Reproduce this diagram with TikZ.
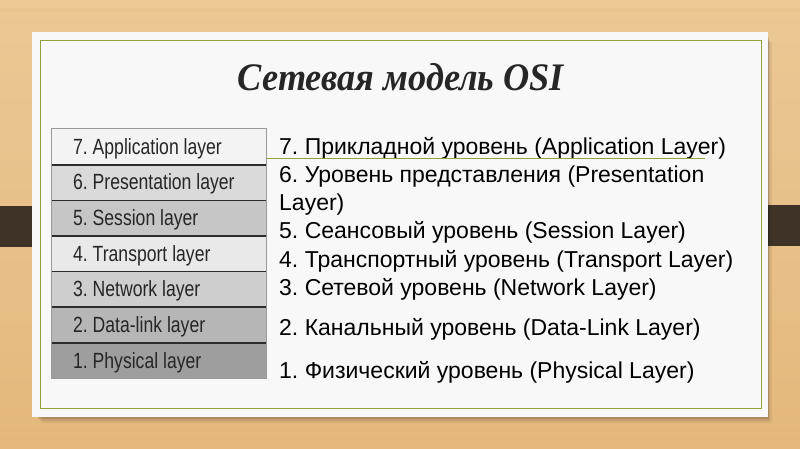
\documentclass[tikz,border=0pt]{standalone}
\usepackage{fontspec}
\setmainfont{Liberation Sans}
\newfontfamily\titlefont{Liberation Serif}
\usetikzlibrary{calc}
\frenchspacing

\definecolor{wood}{HTML}{E8C08A}
\definecolor{woodlight}{HTML}{EBC895}
\definecolor{wooddark}{HTML}{E4B87C}
\definecolor{card}{HTML}{F8F8F8}
\definecolor{olive}{HTML}{8FA33C}
\definecolor{tabbrown}{HTML}{3F3328}
\definecolor{tabedge}{HTML}{B8935E}
\definecolor{rowA}{HTML}{F3F3F3}
\definecolor{rowB}{HTML}{DADADA}
\definecolor{rowC}{HTML}{C6C6C6}
\definecolor{rowD}{HTML}{E9E9E9}
\definecolor{rowE}{HTML}{CECECE}
\definecolor{rowF}{HTML}{B6B6B6}
\definecolor{rowG}{HTML}{9E9E9E}
\definecolor{sep}{HTML}{2C2C2C}

\tikzset{
  layerrow/.style={rectangle, inner sep=0pt, minimum width=214pt, minimum height=35.6pt},
  rowtext/.style={anchor=base west, inner sep=0pt, font=\fontsize{22}{23}\selectfont,
    text=black!85, xscale=0.8, transform shape},
  desc/.style={anchor=base west, inner sep=0pt, font=\fontsize{23}{24}\selectfont, text=black},
}

\begin{document}
\begin{tikzpicture}[x=1pt, y=-1pt]
  \useasboundingbox (0,0) rectangle (800,449);

  % wooden backdrop
  \shade[top color=woodlight, bottom color=wooddark] (0,0) rectangle (800,449);
  \foreach \yy/\op in {8/0.2, 20/0.12, 428/0.15, 440/0.2}
    \fill[wooddark, opacity=\op] (0,\yy) rectangle (800,\yy+4);

  % side tabs
  \fill[tabbrown] (0,206) rectangle (50,247);
  \fill[tabedge] (48,206) rectangle (51,247);
  \fill[tabbrown] (743,205) rectangle (800,246);
  \fill[tabedge] (742,205) rectangle (745,246);

  % card with soft shadow
  \foreach \d/\op in {6/0.06, 4/0.08, 2/0.12}
    \fill[black, opacity=\op] (36+\d,36+\d) rectangle (768+\d*0.6,417+\d);
  \fill[card] (32,32) rectangle (768,417);
  \draw[olive, line width=1pt] (40.5,41) rectangle (761,408);

  % title
  \node[inner sep=0pt, anchor=base, xscale=0.93, transform shape,
        font=\titlefont\bfseries\itshape\fontsize{39}{41}\selectfont, text=black!85]
    (title) at (401,91) {Сетевая модель OSI};

  % layer table
  \node[layerrow, fill=rowA] (l7) at (159,146.8) {};
  \node[layerrow, fill=rowB] (l6) at (159,182.4) {};
  \node[layerrow, fill=rowC] (l5) at (159,218.0) {};
  \node[layerrow, fill=rowD] (l4) at (159,253.6) {};
  \node[layerrow, fill=rowE] (l3) at (159,289.2) {};
  \node[layerrow, fill=rowF] (l2) at (159,324.8) {};
  \node[layerrow, fill=rowG] (l1) at (159,360.4) {};
  \draw[black!40, line width=0.8pt] (l7.north west) rectangle (l1.south east);
  \foreach \a/\b in {l7/l6, l6/l5, l5/l4, l4/l3, l3/l2, l2/l1}
    \draw[sep, line width=1.6pt] (\a.south west) -- (\a.south east);

  \node[rowtext] (t7) at (73,154.5) {7. Application layer};
  \node[rowtext] (t6) at (73,189.5) {6. Presentation layer};
  \node[rowtext] (t5) at (73,225.5) {5. Session layer};
  \node[rowtext] (t4) at (73,261) {4. Transport layer};
  \node[rowtext] (t3) at (73,296.5) {3. Network layer};
  \node[rowtext] (t2) at (73,332) {2. Data-link layer};
  \node[rowtext] (t1) at (73,368) {1. Physical layer};

  % descriptions
  \node[desc] (d7) at (279,155) {7. Прикладной уровень (Application Layer)};
  \coordinate (ulA) at (267,159);
  \coordinate (ulB) at (705,159);
  \draw[olive, line width=1pt] (ulA) -- (ulB);
  \node[desc] (d6) at (279,183) {6. Уровень представления (Presentation};
  \node[desc] (d6b) at (279,210.5) {Layer)};
  \node[desc] (d5) at (279,238.5) {5. Сеансовый уровень (Session Layer)};
  \node[desc] (d4) at (279,267) {4. Транспортный уровень (Transport Layer)};
  \node[desc] (d3) at (279,295) {3. Сетевой уровень (Network Layer)};
  \node[desc] (d2) at (279,335) {2. Канальный уровень (Data-Link Layer)};
  \node[desc] (d1) at (279,378.5) {1. Физический уровень (Physical Layer)};
\end{tikzpicture}
\end{document}
